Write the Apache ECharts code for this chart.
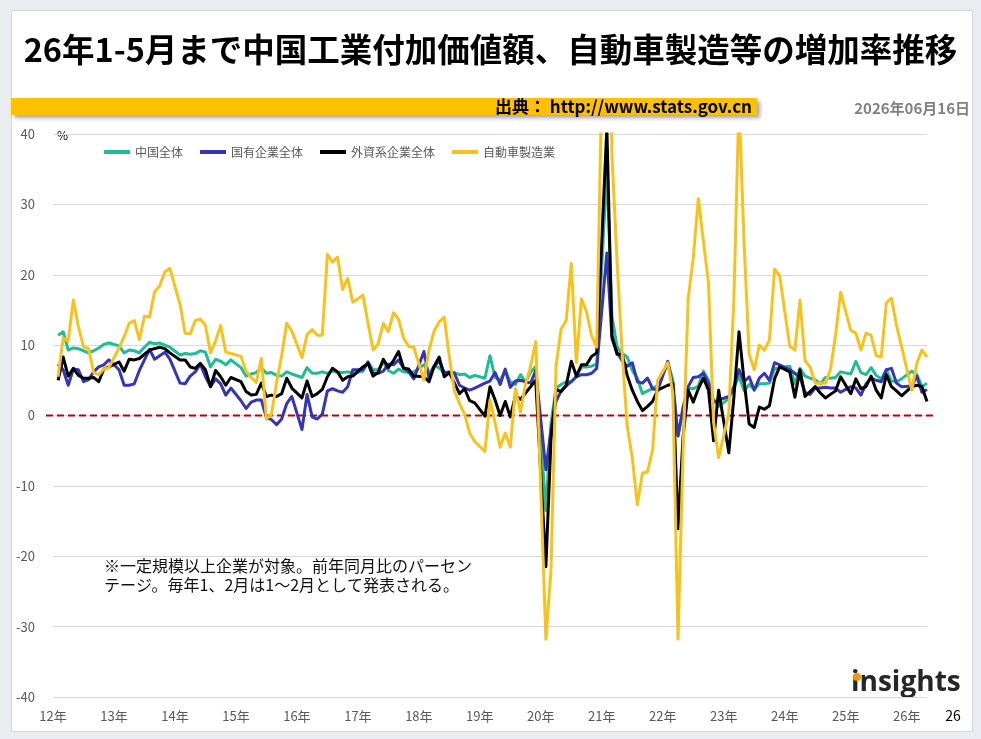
<!DOCTYPE html>
<html lang="ja">
<head>
    <meta charset="UTF-8">
    <title>中国工業付加価値額 増加率推移</title>
    <script src="https://cdn.jsdelivr.net/npm/echarts@6/dist/echarts.min.js"></script>
    <style>
        body { margin: 0; background: #e9edf2; }
        #card { position: absolute; left: 11px; top: 10px; width: 960px; height: 720px; background: #fff; border: 1px solid #d3d8df; }
        #main { position: absolute; left: 0; top: 0; width: 981px; height: 739px; }
    </style>
</head>
<body>
<div id="card"></div>
<div id="main"></div>

<script type="text/javascript">
    // 年ラベル（各年1月の位置に表示）
    var yearLabels = ['12年', '13年', '14年', '15年', '16年', '17年', '18年', '19年',
        '20年', '21年', '22年', '23年', '24年', '25年', '26年'];
    var lastMonth = 5; // 26年は5月まで

    // 前年同月比(%)、1月は1～2月としてまとめて発表されるため null
    var chinaAll = [
        null, 11.4, 11.9, 9.3, 9.6, 9.5, 9.2, 8.9, 9.2, 9.6, 10.1, 10.3,
        null, 9.9, 8.9, 9.3, 9.2, 8.9, 9.7, 10.4, 10.2, 10.3, 10.0, 9.7,
        null, 8.6, 8.8, 8.7, 8.8, 9.2, 9.0, 6.9, 8.0, 7.7, 7.2, 7.9,
        null, 6.8, 5.6, 5.9, 6.1, 6.8, 6.0, 6.1, 5.7, 5.6, 6.2, 5.9,
        null, 5.4, 6.8, 6.0, 6.0, 6.2, 6.0, 6.3, 6.1, 6.1, 6.2, 6.0,
        null, 6.3, 7.6, 6.5, 6.5, 7.6, 6.4, 6.0, 6.6, 6.2, 6.1, 6.2,
        null, 7.2, 6.0, 7.0, 6.8, 6.0, 6.0, 6.1, 5.8, 5.9, 5.4, 5.7,
        null, 5.3, 8.5, 5.4, 5.0, 6.3, 4.8, 4.4, 5.8, 4.7, 6.2, 6.9,
        null, -13.5, -1.1, 3.9, 4.4, 4.8, 4.8, 5.6, 6.9, 6.9, 7.0, 7.3,
        null, 35.1, 14.1, 9.8, 8.8, 8.3, 6.4, 5.3, 3.1, 3.5, 3.8, 4.3,
        null, 7.5, 5.0, -2.9, 0.7, 3.9, 3.8, 4.2, 6.3, 5.0, 2.2, 1.3,
        null, 2.4, 3.9, 5.6, 3.5, 4.4, 3.7, 4.5, 4.5, 4.6, 6.6, 6.8,
        null, 7.0, 4.5, 6.7, 5.6, 5.3, 5.1, 4.5, 5.4, 5.3, 5.4, 6.2,
        null, 5.9, 7.7, 6.1, 5.8, 6.8, 5.7, 5.2, 6.5, 4.9, 4.8, 5.2,
        null, 6.3, 5.8, 4.1, 4.6
    ];
    var stateOwned = [
        null, 7.3, 6.5, 4.3, 6.6, 6.5, 4.8, 5.1, 6.2, 6.9, 7.2, 7.9,
        null, 6.5, 4.3, 4.3, 4.5, 6.4, 7.9, 9.4, 8.0, 8.5, 9.0, 8.0,
        null, 4.6, 4.5, 5.6, 6.2, 7.3, 5.5, 4.1, 5.2, 4.5, 2.9, 3.9,
        null, 2.1, 1.0, 1.9, 2.2, 2.2, -0.3, -0.6, -1.3, -0.5, 1.7, 2.7,
        null, -2.0, 3.0, -0.2, -0.5, 0.2, 3.5, 3.8, 3.5, 3.3, 4.1, 6.5,
        null, 6.5, 7.6, 6.0, 6.0, 6.3, 7.3, 7.2, 7.9, 6.7, 6.2, 5.2,
        null, 9.1, 5.3, 6.9, 7.8, 6.1, 6.2, 6.0, 4.3, 3.9, 3.6, 3.9,
        null, 4.6, 4.9, 6.1, 4.4, 6.6, 4.0, 4.9, 5.0, 4.8, 4.6, 6.4,
        null, -7.7, -2.0, 2.0, 3.5, 4.2, 4.8, 5.5, 5.8, 5.8, 6.0, 6.7,
        null, 23.1, 10.9, 9.0, 7.8, 7.0, 7.5, 4.8, 4.6, 5.3, 3.8, 3.6,
        null, 7.7, 4.0, -2.9, 1.2, 4.1, 5.4, 5.5, 6.0, 4.6, 1.9, 2.2,
        null, 2.7, 4.1, 6.5, 4.8, 5.5, 3.6, 5.3, 6.0, 5.0, 7.5, 7.2,
        null, 6.5, 6.0, 5.4, 3.3, 3.0, 3.9, 3.9, 4.0, 3.9, 3.9, 3.3,
        null, 4.1, 3.9, 2.9, 4.5, 5.3, 5.0, 4.8, 6.5, 6.7, 4.6, 4.1,
        null, 4.2, 5.6, 3.3, 3.7
    ];
    var foreignFunded = [
        null, 5.0, 8.3, 5.6, 6.7, 5.7, 5.3, 5.3, 5.4, 4.8, 6.6, 6.9,
        null, 7.6, 6.3, 8.0, 7.9, 8.1, 8.7, 9.3, 9.5, 9.7, 9.5, 8.9,
        null, 7.9, 7.9, 6.9, 6.7, 7.4, 6.5, 4.1, 6.4, 5.5, 4.3, 5.4,
        null, 4.8, 3.4, 2.9, 3.0, 4.6, 2.7, 2.9, 2.7, 3.1, 5.3, 3.9,
        null, 2.5, 4.9, 2.7, 3.1, 3.7, 5.5, 6.7, 6.2, 5.0, 5.5, 5.6,
        null, 6.9, 7.4, 5.6, 6.1, 8.0, 6.8, 7.8, 9.1, 6.7, 6.6, 5.6,
        null, 5.5, 4.8, 7.0, 8.3, 5.5, 6.1, 4.6, 3.1, 3.8, 2.1, 1.8,
        null, -0.1, 4.1, 2.2, 0.0, 2.0, -0.2, 2.8, 2.3, 3.2, 4.1, 5.0,
        null, -21.5, -3.5, 3.7, 3.4, 4.3, 7.7, 5.6, 7.2, 7.2, 8.4, 8.9,
        null, 40.9, 11.3, 8.7, 8.7, 5.7, 3.6, 2.0, 0.7, 1.3, 2.0, 3.6,
        null, 4.3, 4.5, -16.1, -3.0, 3.6, 1.9, 3.8, 5.3, 3.6, -3.6, 3.6,
        null, -5.3, 2.6, 11.9, 5.0, -1.2, -1.7, 1.2, 0.9, 1.4, 5.2, 6.9,
        null, 6.2, 2.6, 6.5, 2.7, 3.4, 4.1, 3.2, 2.5, 3.0, 3.5, 5.5,
        null, 3.1, 5.2, 3.8, 4.1, 5.6, 3.6, 2.5, 5.8, 4.1, 3.5, 2.8,
        null, 4.1, 4.3, 4.1, 2.0
    ];
    var autoMaking = [
        null, 5.5, 11.0, 10.6, 16.4, 12.6, 9.8, 9.5, 6.1, 5.8, 6.6, 6.8,
        null, 9.6, 11.2, 13.1, 13.5, 10.8, 14.1, 14.0, 17.6, 18.4, 20.4, 20.9,
        null, 15.8, 11.7, 11.6, 13.5, 13.7, 12.8, 8.9, 10.6, 12.8, 9.0, 8.8,
        null, 8.4, 6.3, 5.4, 4.7, 8.1, -0.5, 0.2, 4.7, 8.5, 13.1, 12.0,
        null, 8.2, 11.5, 12.2, 11.4, 11.4, 22.9, 21.8, 22.5, 17.9, 19.5, 16.1,
        null, 17.1, 13.1, 9.3, 10.2, 13.1, 11.9, 14.6, 13.7, 11.0, 9.8, 9.7,
        null, 5.0, 9.3, 12.0, 13.3, 14.0, 8.3, 3.5, 1.7, 0.2, -2.5, -3.7,
        null, -5.1, 2.2, -1.0, -4.5, -2.5, -4.5, 3.8, 0.5, 4.5, 7.0, 10.5,
        null, -31.8, -22.0, 7.0, 12.3, 13.5, 21.6, 7.5, 16.6, 14.7, 11.3, 9.7,
        null, 85.0, 37.0, 22.0, 9.0, -1.5, -6.0, -12.7, -8.2, -8.0, -4.9, 5.0,
        null, 7.5, 3.1, -31.8, -5.0, 16.6, 22.4, 30.8, 24.8, 18.8, -1.0, -6.0,
        null, 0.3, 16.6, 44.6, 24.6, 8.7, 6.5, 10.0, 9.3, 10.7, 20.8, 19.9,
        null, 9.8, 9.3, 16.4, 7.8, 6.9, 4.6, 4.6, 4.6, 6.5, 11.4, 17.5,
        null, 12.1, 11.7, 9.3, 11.7, 11.4, 8.5, 8.3, 16.0, 16.7, 12.8, 9.8,
        null, 3.6, 7.4, 9.3, 8.3
    ];

    var categories = [];
    yearLabels.forEach(function (y, i) {
        var n = (i === yearLabels.length - 1) ? lastMonth : 12;
        for (var m = 1; m <= n; m++) {
            categories.push(y + m + '月');
        }
    });

    var jpFont = '"Noto Sans CJK JP", sans-serif';

    function lineSeries(name, data, color) {
        return {
            name: name,
            type: 'line',
            data: data,
            symbol: 'none',
            connectNulls: true,
            lineStyle: { width: 3, color: color, join: 'round' },
            itemStyle: { color: color }
        };
    }

    var myChart = echarts.init(document.getElementById('main'));
    var option = {
        animation: false,
        textStyle: { fontFamily: jpFont },
        grid: { left: 53, right: 54, top: 134, bottom: 42 },
        legend: {
            left: 99,
            top: 141,
            icon: 'rect',
            itemWidth: 26,
            itemHeight: 4,
            itemGap: 17,
            textStyle: { fontSize: 12, color: '#595959', fontFamily: jpFont },
            data: ['中国全体', '国有企業全体', '外資系企業全体', '自動車製造業']
        },
        xAxis: {
            type: 'category',
            data: categories,
            boundaryGap: false,
            axisLine: { show: false, onZero: false },
            axisTick: { show: false },
            axisLabel: {
                interval: function (index) { return index % 12 === 0; },
                formatter: function (v) { return v.slice(0, v.indexOf('年') + 1); },
                color: '#595959',
                fontSize: 13,
                margin: 13
            }
        },
        yAxis: {
            type: 'value',
            min: -40,
            max: 40,
            interval: 10,
            axisLine: { show: false },
            axisTick: { show: false },
            axisLabel: { color: '#595959', fontSize: 13, margin: 18 },
            splitLine: { lineStyle: { color: '#d9d9d9', width: 1 } }
        },
        series: [
            lineSeries('中国全体', chinaAll, '#1fbc95'),
            lineSeries('国有企業全体', stateOwned, '#3535b5'),
            lineSeries('外資系企業全体', foreignFunded, '#000000'),
            lineSeries('自動車製造業', autoMaking, '#f7c21b')
        ],
        graphic: {
            elements: [
                {
                    id: 'title', type: 'text', left: 'center', top: 33,
                    style: {
                        text: '26年1-5月まで中国工業付加価値額、自動車製造等の増加率推移',
                        font: 'bold 32.5px ' + jpFont, fill: '#000'
                    }
                },
                {
                    id: 'bar', type: 'rect', z: 5,
                    shape: { x: 11, y: 98, width: 746, height: 17 },
                    style: {
                        fill: '#ffc000', shadowBlur: 4, shadowOffsetX: 3, shadowOffsetY: 3,
                        shadowColor: 'rgba(0,0,0,0.35)'
                    }
                },
                {
                    id: 'source', type: 'text', z: 6,
                    style: {
                        text: '出典： http://www.stats.gov.cn', x: 752, y: 107,
                        textAlign: 'right', textVerticalAlign: 'middle',
                        font: 'bold 17px ' + jpFont, fill: '#000'
                    }
                },
                {
                    id: 'date', type: 'text',
                    style: {
                        text: '2026年06月16日', x: 970, y: 108,
                        textAlign: 'right', textVerticalAlign: 'middle',
                        font: 'bold 15px ' + jpFont, fill: '#808080'
                    }
                },
                {
                    id: 'unit', type: 'text',
                    style: {
                        text: '%', x: 57, y: 135, textVerticalAlign: 'middle',
                        font: '12px ' + jpFont, fill: '#000'
                    }
                },
                {
                    id: 'note', type: 'text',
                    style: {
                        text: '※一定規模以上企業が対象。前年同月比のパーセン\nテージ。毎年1、2月は1～2月として発表される。',
                        x: 104, y: 556, textVerticalAlign: 'top',
                        font: '16px ' + jpFont, lineHeight: 19, fill: '#111'
                    }
                },
                {
                    id: 'logo', type: 'text',
                    style: {
                        text: 'insights', x: 851, y: 697, textVerticalAlign: 'bottom',
                        font: 'bold 28px "Open Sans", sans-serif', fill: '#262626'
                    }
                },
                {
                    id: 'logoDot', type: 'circle', z: 10,
                    shape: { cx: 857, cy: 677, r: 4 },
                    style: { fill: '#f39800' }
                },
                {
                    id: 'endLabel', type: 'text',
                    style: {
                        text: '26', x: 953, y: 716, textAlign: 'center', textVerticalAlign: 'middle',
                        font: '14px ' + jpFont, fill: '#000'
                    }
                }
            ]
        }
    };
    myChart.setOption(option);

    // 0%の破線（軸の座標変換で位置を求める）
    var zeroY = myChart.convertToPixel({ yAxisIndex: 0 }, 0);
    myChart.setOption({
        graphic: {
            elements: [{
                id: 'zeroLine', type: 'line', z: 1,
                shape: { x1: 46, y1: zeroY, x2: 936, y2: zeroY },
                style: { stroke: '#c00000', lineWidth: 2, lineDash: [7, 4] }
            }]
        }
    });
</script>
</body>
</html>
